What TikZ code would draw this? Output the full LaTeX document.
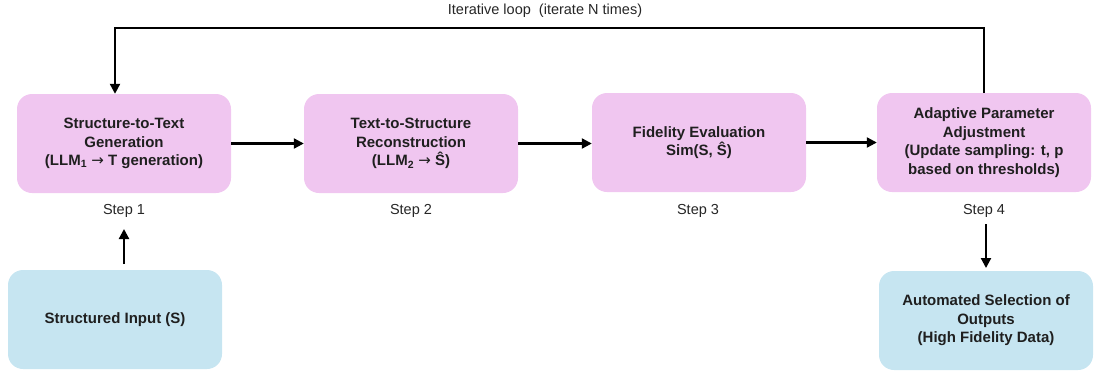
\documentclass[tikz,border=0pt]{standalone}
\usepackage{fontspec}
\setmainfont{Liberation Sans}
\newfontfamily\symfont{DejaVu Sans}
\usetikzlibrary{arrows.meta}
\definecolor{stepfill}{HTML}{F0C6F0}
\definecolor{iofill}{HTML}{C6E5F1}
\newcommand{\rarr}{{\symfont\mdseries →}}
\tikzset{
  box/.style={rounded corners=15pt, minimum width=214pt, minimum height=99pt, inner sep=0pt, align=center, font=\bfseries\fontsize{15}{18.5}\selectfont, text=black!88},
  stepbox/.style={box, fill=stepfill},
  iobox/.style={box, fill=iofill},
  steplabel/.style={font=\fontsize{14.5}{16}\selectfont, text=black!85},
  conn/.style={line width=2.2pt, -{Triangle[length=10pt,width=10pt]}},
}
\begin{document}
\begin{tikzpicture}[x=1pt,y=-1pt]
\useasboundingbox (0,0) rectangle (1094,373);
\node[stepbox] (s1) at (124,143.5) {Structure-to-Text\\Generation\\(LLM\textsubscript{1} \rarr{} T generation)};
\node[stepbox] (s2) at (411,143.5) {Text-to-Structure\\Reconstruction\\(LLM\textsubscript{2} \rarr{} Ŝ)};
\node[stepbox] (s3) at (699,142.5) {Fidelity Evaluation\\Sim(S, Ŝ)};
\node[stepbox] (s4) at (984,142.5) {Adaptive Parameter\\Adjustment\\(Update sampling: t, p\\based on thresholds)};
\node[iobox] (in) at (115,319.5) {Structured Input (S)};
\node[iobox] (out) at (986,320.5) {Automated Selection of\\Outputs\\(High Fidelity Data)};
\node[steplabel] (l1) at (124,211) {Step 1};
\node[steplabel] (l2) at (411,211) {Step 2};
\node[steplabel] (l3) at (698,211) {Step 3};
\node[steplabel] (l4) at (984,211) {Step 4};
\node[font=\fontsize{14.5}{16}\selectfont, text=black!85] (loop) at (545,11) {Iterative loop\ \ (iterate N times)};
\coordinate (tr) at (984,28);
\coordinate (tl) at (115,28);
\draw[conn] (s1.east) -- (s2.west);
\draw[conn] (s2.east) -- (s2.east -| s3.west);
\draw[conn] (s3.east) -- (s4.west);
\draw[conn] (s4.north) -- (tr) -- (tl) -- (tl |- s1.north);
\draw[conn] (124,264) -- (124,229);
\draw[conn] (986,224) -- (986,268);
\end{tikzpicture}
\end{document}
